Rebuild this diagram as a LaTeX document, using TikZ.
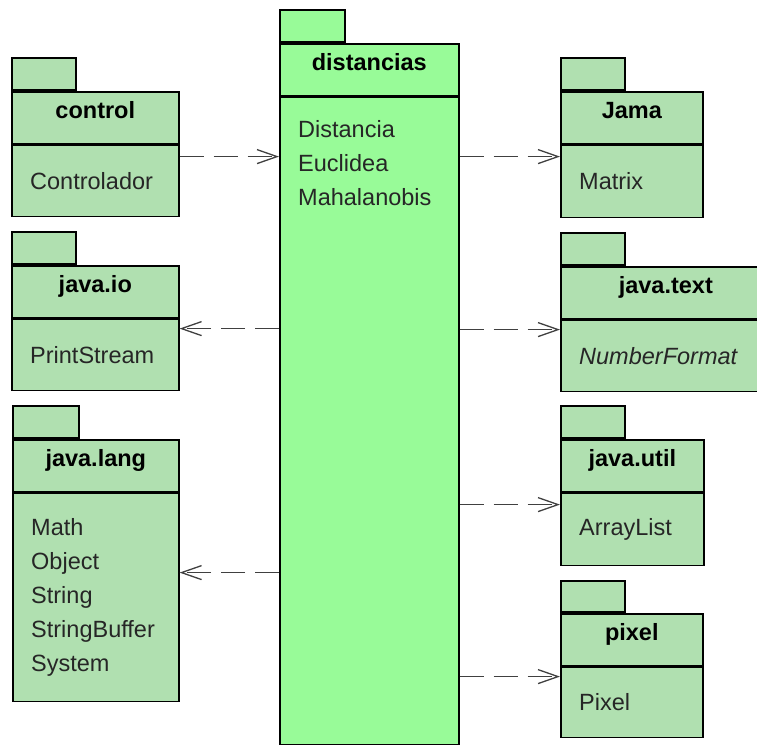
\documentclass[tikz,border=0pt]{standalone}
\usepackage{fontspec}
\setmainfont{Liberation Sans}
\usetikzlibrary{arrows.meta,positioning}
\definecolor{pkggreen}{RGB}{176,224,176}
\definecolor{mainpkg}{RGB}{152,251,152}

\begin{document}
\begin{tikzpicture}[x=1pt, y=-1pt,
  pkgtab/.style={rectangle, draw, line width=1.6pt, fill=pkggreen,
                 inner sep=0pt, minimum width=64pt, minimum height=32pt,
                 anchor=south west},
  pkghead/.style={rectangle, draw, line width=1.6pt, fill=pkggreen,
                  inner sep=0pt, minimum height=52pt,
                  text height=17pt, text depth=15pt,
                  font=\fontsize{23.5}{28}\selectfont\bfseries,
                  anchor=north west},
  pkgbody/.style={rectangle, draw, line width=1.6pt, fill=pkggreen,
                  inner sep=0pt, anchor=north west},
  members/.style={inner sep=0pt, align=left, anchor=west,
                  font=\fontsize{23.5}{34}\selectfont, text=black!85},
  dep/.style={line width=1.7pt, draw=black!75, dash pattern=on 24pt off 10pt,
              -{Straight Barb[length=20pt, width=14pt, line width=1.3pt]}}
]
\clip (0,0) rectangle (757,746);

% central package
\node[pkghead, fill=mainpkg, minimum width=179pt] (dist-head) at (279,43) {distancias};
\node[pkgtab, fill=mainpkg, minimum width=65pt] (dist-tab) at (dist-head.north west) {};
\node[pkgbody, fill=mainpkg, minimum width=179pt, minimum height=647pt] (dist-body) at (dist-head.south west) {};
\node[members, anchor=north west] (dist-list) at ([xshift=19pt, yshift=-24pt]dist-body.north west)
  {Distancia\\Euclidea\\Mahalanobis};

% left column
\node[pkghead, minimum width=167pt] (control-head) at (11,91) {control};
\node[pkgtab] (control-tab) at (control-head.north west) {};
\node[pkgbody, minimum width=167pt, minimum height=71pt] (control-body) at (control-head.south west) {};
\node[members, right=19pt of control-body.west, anchor=west] (control-list) {Controlador};

\node[pkghead, minimum width=167pt] (jio-head) at (11,265) {java.io};
\node[pkgtab] (jio-tab) at (jio-head.north west) {};
\node[pkgbody, minimum width=167pt, minimum height=71pt] (jio-body) at (jio-head.south west) {};
\node[members, right=19pt of jio-body.west, anchor=west] (jio-list) {PrintStream};

\node[pkghead, minimum width=166pt] (jlang-head) at (12,439) {java.lang};
\node[pkgtab, minimum width=66pt] (jlang-tab) at (jlang-head.north west) {};
\node[pkgbody, minimum width=166pt, minimum height=208pt] (jlang-body) at (jlang-head.south west) {};
\node[members, right=19pt of jlang-body.west, anchor=west] (jlang-list)
  {Math\\Object\\String\\StringBuffer\\System};

% right column
\node[pkghead, minimum width=142pt] (jama-head) at (560,91) {Jama};
\node[pkgtab] (jama-tab) at (jama-head.north west) {};
\node[pkgbody, minimum width=142pt, minimum height=72pt] (jama-body) at (jama-head.south west) {};
\node[members, right=19pt of jama-body.west, anchor=west] (jama-list) {Matrix};

\node[pkghead, minimum width=210pt] (jtext-head) at (560,266) {java.text};
\node[pkgtab] (jtext-tab) at (jtext-head.north west) {};
\node[pkgbody, minimum width=210pt, minimum height=71pt] (jtext-body) at (jtext-head.south west) {};
\node[members, right=19pt of jtext-body.west, anchor=west] (jtext-list) {\itshape NumberFormat};

\node[pkghead, minimum width=143pt] (jutil-head) at (560,439) {java.util};
\node[pkgtab] (jutil-tab) at (jutil-head.north west) {};
\node[pkgbody, minimum width=143pt, minimum height=72pt] (jutil-body) at (jutil-head.south west) {};
\node[members, right=19pt of jutil-body.west, anchor=west] (jutil-list) {ArrayList};

\node[pkghead, minimum width=142pt] (pixel-head) at (560,613) {pixel};
\node[pkgtab, minimum height=31pt] (pixel-tab) at (pixel-head.north west) {};
\node[pkgbody, minimum width=142pt, minimum height=70pt] (pixel-body) at (pixel-head.south west) {};
\node[members, right=19pt of pixel-body.west, anchor=west] (pixel-list) {Pixel};

% dependencies
\coordinate (control-out) at ([yshift=-12pt]control-body.north east);
\coordinate (jio-in) at ([yshift=-10pt]jio-body.north east);
\coordinate (jlang-in) at ([yshift=-80pt]jlang-body.north east);
\coordinate (jama-in) at ([yshift=-12pt]jama-body.north west);
\coordinate (jtext-in) at ([yshift=-10pt]jtext-body.north west);
\coordinate (jutil-in) at ([yshift=-12pt]jutil-body.north west);
\coordinate (pixel-in) at ([yshift=-10pt]pixel-body.north west);

\draw[dep] (control-out) -- (control-out -| dist-body.west);
\draw[dep] (jio-in -| dist-body.west) -- (jio-in);
\draw[dep] (jlang-in -| dist-body.west) -- (jlang-in);
\draw[dep] (jama-in -| dist-body.east) -- (jama-in);
\draw[dep] (jtext-in -| dist-body.east) -- (jtext-in);
\draw[dep] (jutil-in -| dist-body.east) -- (jutil-in);
\draw[dep] (pixel-in -| dist-body.east) -- (pixel-in);
\end{tikzpicture}
\end{document}
